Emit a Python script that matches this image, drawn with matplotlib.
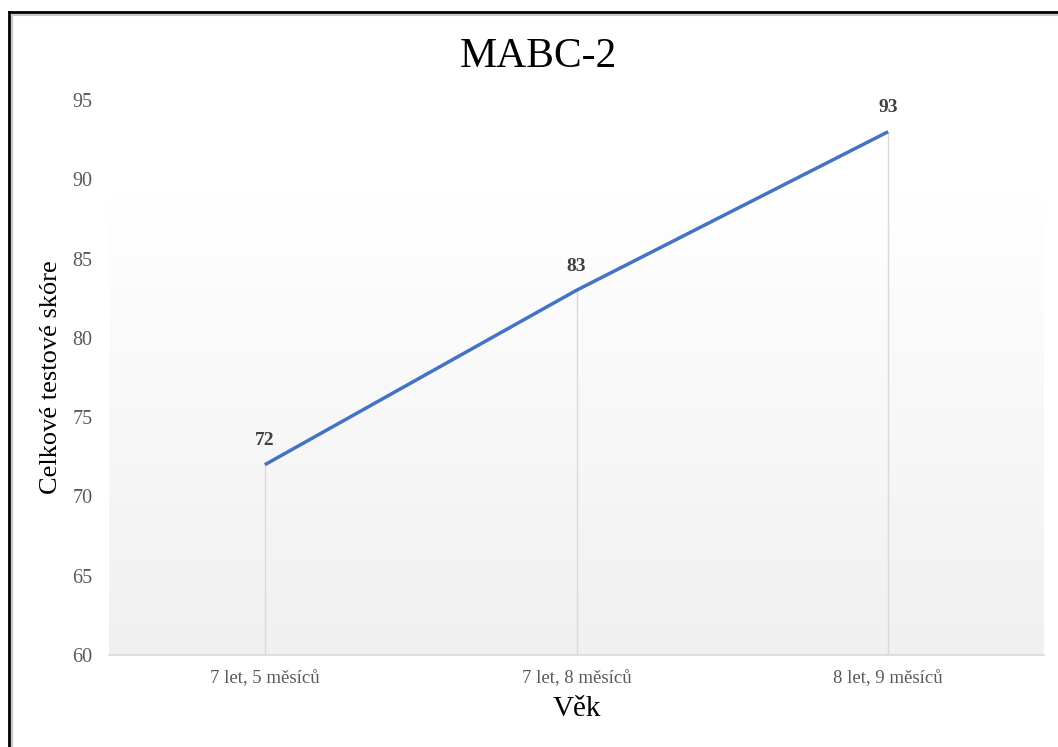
import matplotlib
matplotlib.use("Agg")
import matplotlib.pyplot as plt
import numpy as np
from matplotlib.lines import Line2D

categories = ["7 let, 5 měsíců", "7 let, 8 měsíců", "8 let, 9 měsíců"]
scores = [72, 83, 93]
yticks = [60, 65, 70, 75, 80, 85, 90, 95]

plt.rcParams['font.family'] = ['Liberation Serif', 'DejaVu Serif']

W, H = 1058, 747
fig = plt.figure(figsize=(W / 100, H / 100), dpi=100)
ax = fig.add_axes([109 / W, 1 - 655 / H, (1044 - 109) / W, (655 - 100) / H])

x = np.arange(len(categories))
ax.set_xlim(-0.5, len(categories) - 0.5)
ax.set_ylim(60, 95)

# gradient background
grad = np.linspace(0, 1, 256).reshape(-1, 1)
cmap = matplotlib.colors.LinearSegmentedColormap.from_list("g", ["#f0f0f0", "#ffffff"])
ax.imshow(grad, cmap=cmap, aspect="auto", extent=(-0.5, len(categories) - 0.5, 60, 89),
          origin="lower", zorder=0, vmin=0, vmax=1)

# drop lines
ax.vlines(x, 60, scores, colors="#d9d9d9", linewidth=1.0, zorder=1)
ax.plot(x, scores, color="#4472C4", linewidth=2.5, solid_capstyle="butt", zorder=3)

for xi, v in zip(x, scores):
    ax.annotate(str(v), (xi, v), xytext=(0, 11), textcoords="offset points",
                ha="center", va="bottom", fontsize=14, fontweight="bold", color="#404040")

ax.set_xticks(x)
ax.set_xticklabels(categories, fontsize=13.5, color="#595959")
ax.set_yticks(yticks)
ax.set_yticklabels([str(t) for t in yticks], fontsize=14.5, color="#595959")
ax.tick_params(axis="both", length=0)
ax.tick_params(axis="x", pad=11)
ax.tick_params(axis="y", pad=12)
for s in ["top", "right", "left"]:
    ax.spines[s].set_visible(False)
ax.spines["bottom"].set_color("#d9d9d9")
ax.spines["bottom"].set_linewidth(1.2)

ax.set_xlabel("Věk", fontsize=21, color="black", labelpad=6)
ax.set_ylabel("Celkové testové skóre", fontsize=19, color="black")
ax.yaxis.set_label_coords((62 - 109) / (1044 - 109), 0.5)
fig.text(538 / W, 1 - 67 / H, "MABC-2", fontsize=30, color="black",
         ha="center", va="baseline")

# figure frame (top and left edges visible)
fig.add_artist(Line2D([9 / W, 9 / W], [0, 1 - 12 / H], transform=fig.transFigure,
                      color="black", linewidth=2))
fig.add_artist(Line2D([9 / W, 1], [1 - 12 / H, 1 - 12 / H], transform=fig.transFigure,
                      color="black", linewidth=2))
fig.add_artist(Line2D([11.5 / W, 11.5 / W], [0, 1 - 14.5 / H], transform=fig.transFigure,
                      color="#c8c8c8", linewidth=1.5))
fig.add_artist(Line2D([11.5 / W, 1], [1 - 14.5 / H, 1 - 14.5 / H], transform=fig.transFigure,
                      color="#c8c8c8", linewidth=1.5))

fig.savefig("out.png", dpi=100)
